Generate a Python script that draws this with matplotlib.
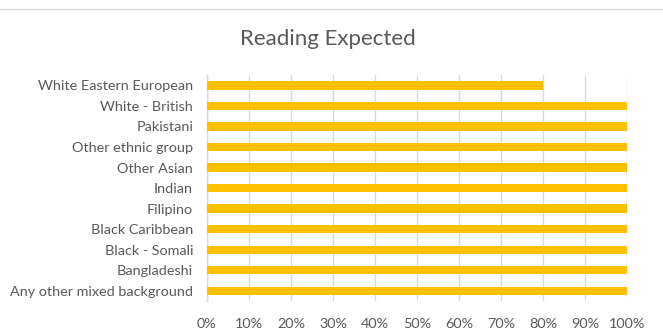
import matplotlib.pyplot as plt
from matplotlib.lines import Line2D
from matplotlib.ticker import FuncFormatter

groups = ['Any other mixed background', 'Bangladeshi', 'Black - Somali',
          'Black Caribbean', 'Filipino', 'Indian', 'Other Asian',
          'Other ethnic group', 'Pakistani', 'White - British',
          'White Eastern European']
expected = [1.0, 1.0, 1.0, 1.0, 1.0, 1.0, 1.0, 1.0, 1.0, 1.0, 0.8]
xticks = [0, 0.1, 0.2, 0.3, 0.4, 0.5, 0.6, 0.7, 0.8, 0.9, 1.0]

plt.rcParams['font.family'] = ['Lato', 'DejaVu Sans']
text_col = '#595959'
grid_col = '#D9D9D9'

fig = plt.figure(figsize=(6.63, 3.34), dpi=100)
ax = fig.add_axes([0.3122, 0.099, 0.6335, 0.676])

ax.barh(range(len(groups)), expected, height=0.4, color='#FFC000', zorder=3)

ax.set_xlim(0, 1.0)
ax.set_ylim(-0.5, len(groups) - 0.5)
ax.set_xticks(xticks)
ax.xaxis.set_major_formatter(FuncFormatter(lambda v, p: '%d%%' % round(v * 100)))
ax.set_yticks(range(len(groups)))
ax.set_yticklabels(groups)

ax.grid(axis='x', color=grid_col, linewidth=1.0, zorder=0)
for s in ['top', 'right', 'bottom']:
    ax.spines[s].set_visible(False)
ax.spines['left'].set_color(grid_col)
ax.spines['left'].set_linewidth(1.0)
ax.tick_params(axis='both', length=0, labelsize=10.4, colors=text_col)
ax.tick_params(axis='x', pad=12)
ax.tick_params(axis='y', pad=10)

fig.text(0.495, 0.883, 'Reading Expected', ha='center', va='center',
         fontsize=16, color=text_col)
fig.add_artist(Line2D([0, 1], [0.972, 0.972], transform=fig.transFigure,
                      color=grid_col, linewidth=1.0))

fig.savefig('out.png', dpi=100)
